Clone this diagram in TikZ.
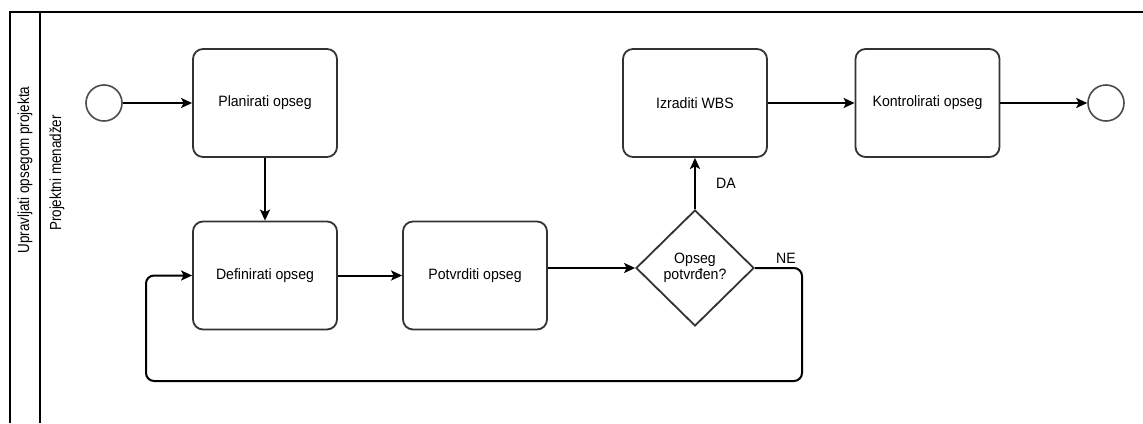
\documentclass[tikz,border=0pt]{standalone}
\usepackage{fontspec}
\setmainfont{Liberation Sans}
\usetikzlibrary{shapes.geometric,arrows.meta}
\newcommand\sqz[1]{\scalebox{0.94}[1]{#1}}
\newcommand\lanesqz[1]{\scalebox{0.84}[1]{#1}}
\begin{document}
\begin{tikzpicture}[x=1pt,y=-1pt,
  task/.style={draw=black!80, line width=1.8pt, rounded corners=10pt, minimum width=144pt, minimum height=108pt, inner sep=0pt, font=\fontsize{15}{16}\selectfont, fill=white},
  evt/.style={circle, draw=black!70, line width=1.6pt, minimum size=36pt, inner sep=0pt, fill=white},
  gw/.style={diamond, draw=black!80, line width=1.8pt, minimum width=118pt, minimum height=116pt, inner sep=0pt, font=\fontsize{15}{16}\selectfont, fill=white},
  flow/.style={line width=2pt, -{Stealth[length=11pt,width=10pt,inset=2.5pt]}},
  lbl/.style={font=\fontsize{15}{16}\selectfont, inner sep=0pt},
  lane/.style={rotate=90, font=\fontsize{16}{18}\selectfont, inner sep=0pt},
  frame/.style={line width=2pt, draw=black}
]
\useasboundingbox (0,0) rectangle (1143,423);
% pool / lane frame
\draw[frame] (10,423) -- (10,12) -- (1143,12);
\draw[frame] (40,12) -- (40,423);
\node[lane] (pool) at (25,170) {\lanesqz{Upravljati opsegom projekta}};
\node[lane] (lanelbl) at (57,173) {\lanesqz{Projektni menadžer}};
% nodes
\node[evt] (start) at (104,103) {};
\node[task] (plan) at (265,103) {\sqz{Planirati opseg}};
\node[task] (def) at (265,275.5) {\sqz{Definirati opseg}};
\node[task] (pot) at (475,275.5) {\sqz{Potvrditi opseg}};
\node[gw] (gate) at (695,268) {\sqz{\begin{tabular}{@{}c@{}}Opseg\\potvrđen?\end{tabular}}};
\node[task] (wbs) at (695,103) {\sqz{Izraditi WBS}};
\node[task] (kon) at (927.5,103) {\sqz{Kontrolirati opseg}};
\node[evt] (end) at (1106,103) {};
% flows
\draw[flow] (start) -- (plan);
\draw[flow] (plan) -- (def);
\draw[flow] (def) -- (pot);
\draw[flow] (pot.east |- gate.west) -- (gate.west);
\draw[flow] (gate.north) -- (wbs.south);
\draw[flow] (wbs) -- (kon);
\draw[flow] (kon) -- (end);
\draw[flow, rounded corners=8pt] (gate.east) -- (802,268) -- (802,381) -- (146,381) -- (146,275.5) -- (def.west);
% labels
\node[lbl] (da) at (726,183) {\sqz{DA}};
\node[lbl] (ne) at (786,258) {\sqz{NE}};
\end{tikzpicture}
\end{document}
